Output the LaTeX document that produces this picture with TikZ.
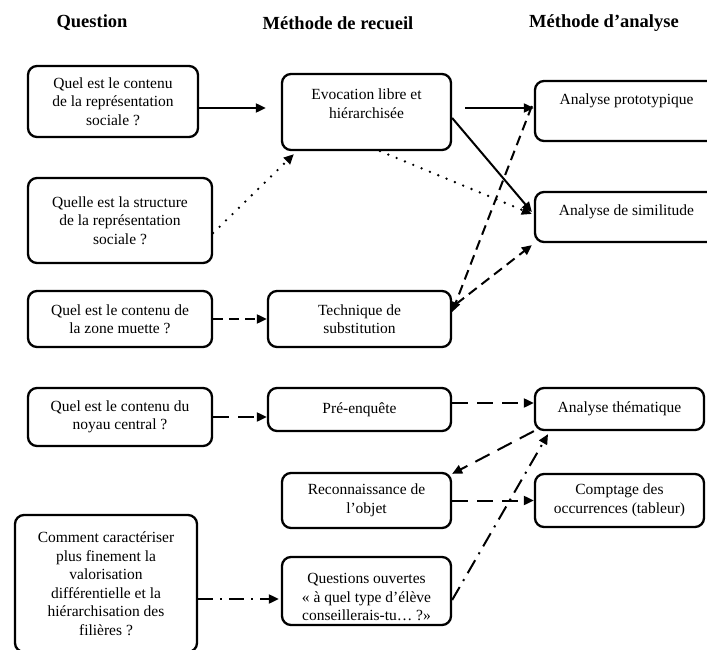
\documentclass[tikz,border=0pt]{standalone}
\usepackage{fontspec}
\setmainfont{Liberation Serif}
\usetikzlibrary{arrows.meta}

\begin{document}
\begin{tikzpicture}[x=1pt,y=-1pt,->,>={Triangle[length=10pt,width=9pt]},line width=2pt,
  font=\fontsize{15.5}{18.5}\selectfont]
  \tikzstyle{module}=[draw,rectangle,rounded corners=9pt,line width=2.3pt,align=center,inner sep=3pt]
  \tikzstyle{heading}=[font=\fontsize{18.5}{22}\selectfont\bfseries]
  \tikzstyle{dotarrow}=[line width=2.6pt,line cap=round,dash pattern=on 0pt off 9pt]
  \tikzstyle{dasharrow}=[dash pattern=on 10pt off 6pt]
  \tikzstyle{longdasharrow}=[dash pattern=on 16pt off 9pt]
  \tikzstyle{dotdasharrow}=[dash pattern=on 15pt off 7pt on 2pt off 7pt]

  \useasboundingbox (0,0) rectangle (707,650);
  \clip (0,0) rectangle (707,650);

  % column titles
  \node[heading] (qhead) at (92,23) {Question};
  \node[heading] (rhead) at (338,23) {Méthode de recueil};
  \node[heading] (ahead) at (604,23) {Méthode d’analyse};

  % questions
  \node[module, minimum width=170pt, minimum height=71pt] (q1) at (113,101.5) {Quel est le contenu\\de la représentation\\sociale ?};
  \node[module, minimum width=184pt, minimum height=85pt] (q2) at (120,220.5) {Quelle est la structure\\de la représentation\\sociale ?};
  \node[module, minimum width=184pt, minimum height=56pt] (q3) at (120,319) {Quel est le contenu de\\la zone muette ?};
  \node[module, minimum width=184pt, minimum height=58pt] (q4) at (120,417) {Quel est le contenu du\\noyau central ?};
  \node[module, minimum width=182pt, minimum height=137pt] (q5) at (106,583.5) {Comment caractériser\\plus finement la\\valorisation\\différentielle et la\\hiérarchisation des\\filières ?};

  % methodes de recueil
  \node[module, minimum width=169pt, minimum height=76pt, text depth=17pt] (evoc) at (366.5,112) {Evocation libre et\\hiérarchisée};
  \node[module, minimum width=183pt, minimum height=56pt] (subst) at (359.5,319) {Technique de\\substitution};
  \node[module, minimum width=183pt, minimum height=43pt] (preenq) at (359.5,409.5) {Pré-enquête};
  \node[module, minimum width=169pt, minimum height=55pt] (reconn) at (366.5,500.5) {Reconnaissance de\\l’objet};
  \node[module, minimum width=169pt, minimum height=68pt, text height=60pt] (quest) at (366.5,591) {Questions ouvertes\\« à quel type d’élève\\conseillerais-tu… ?»};

  % methodes d'analyse
  \node[module, minimum width=183pt, minimum height=60pt, text depth=24pt] (proto) at (626.5,111) {Analyse prototypique};
  \node[module, minimum width=183pt, minimum height=50pt, text depth=13pt] (simil) at (626.5,217) {Analyse de similitude};
  \node[module, minimum width=169pt, minimum height=42pt] (them) at (619.5,409) {Analyse thématique};
  \node[module, minimum width=169pt, minimum height=53pt] (compt) at (619.5,500.5) {Comptage des\\occurrences (tableur)};

  % liens
  \path ([yshift=-6.5pt]q1.east) edge ([xshift=-15pt,yshift=4pt]evoc.west);
  \path ([xshift=13pt,yshift=4pt]evoc.east) edge ([yshift=3pt]proto.west);
  \path ([yshift=-6pt]evoc.east) edge ([xshift=-2pt,yshift=5pt]simil.west);
  \path ([xshift=13.5pt]evoc.south) edge[dotarrow] ([xshift=-2pt,yshift=3pt]simil.west);
  \path ([yshift=-12.5pt]q2.east) edge[dotarrow] ([xshift=13pt,yshift=-3pt]evoc.south west);
  \path (q3.east) edge[dasharrow] (subst.west);
  \path ([xshift=-2pt,yshift=5pt]proto.west) edge[dasharrow] ([yshift=7pt]subst.east);
  \path ([xshift=4pt,yshift=15pt]subst.east) edge[dasharrow] ([xshift=-2pt,yshift=-2pt]simil.south west);
  \path (q4.east) edge[longdasharrow] (q4.east -| preenq.west);
  \path ([yshift=6.5pt]preenq.east) edge[longdasharrow] ([yshift=6pt]them.west);
  \path (them.south west) edge[longdasharrow] ([yshift=-2pt]reconn.north east);
  \path (reconn.east) edge[longdasharrow] (compt.west);
  \path ([yshift=-15.5pt]q5.east) edge[dotdasharrow] ([xshift=-2pt,yshift=-8pt]quest.west);
  \path ([yshift=-9pt]quest.east) edge[dotdasharrow] ([xshift=-71.5pt,yshift=-3pt]them.south);
\end{tikzpicture}
\end{document}
